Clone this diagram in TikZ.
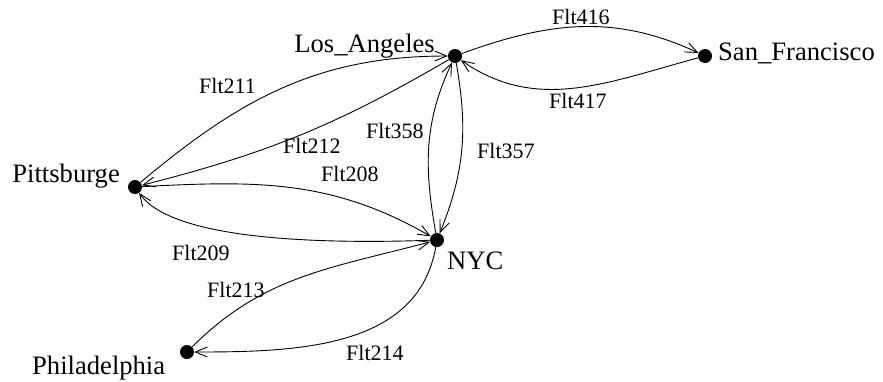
\documentclass[tikz,border=0pt]{standalone}
\usepackage{fontspec}
\setmainfont{Liberation Serif}
\usetikzlibrary{arrows.meta}
\begin{document}
\begin{tikzpicture}[x=1pt,y=1pt,
  city/.style={circle,fill=black,inner sep=0pt,minimum size=14pt},
  cityname/.style={font=\fontsize{26.6}{30}\selectfont,inner sep=0pt},
  flt/.style={font=\fontsize{22}{26}\selectfont,inner sep=0pt,anchor=base west},
  route/.style={line width=0.9pt,-{Straight Barb[length=12pt,width=10pt,line width=0.9pt]}}]
\useasboundingbox (0,0) rectangle (883,-381);
% cities
\node[city] (la) at (455,-56) {};
\node[city] (sf) at (705,-56) {};
\node[city] (pit) at (135,-187) {};
\node[city] (nyc) at (437,-240) {};
\node[city] (phl) at (187,-352) {};
% city names
\node[cityname,anchor=base east] (laname) at (435,-52) {Los\_Angeles};
\node[cityname,anchor=base west] (sfname) at (718,-60) {San\_Francisco};
\node[cityname,anchor=base east] (pitname) at (120,-182) {Pittsburge};
\node[cityname,anchor=base west] (nycname) at (447,-269) {NYC};
\node[cityname,anchor=base west] (phlname) at (32,-374) {Philadelphia};
% routes
\draw[route] (pit) to[out=40,in=180] (la);
\draw[route] (la) to[bend left=8] (pit);
\draw[route] (pit) to[out=3,in=150] (nyc);
\draw[route] (nyc) .. controls +(182:140) and +(-55:60) .. (pit);
\draw[route] (phl) to[out=45,in=195] (nyc);
\draw[route] (nyc) to[out=-100,in=0] (phl);
\draw[route] (nyc) to[out=100,in=-115] (la);
\draw[route] (la) to[out=-80,in=68] (nyc);
\draw[route] (la) to[out=20,in=155] (sf);
\draw[route] (sf) to[out=195,in=-35] (la);
% flight labels
\node[flt] (f211) at (199,-93) {Flt211};
\node[flt] (f212) at (283,-153) {Flt212};
\node[flt] (f358) at (366,-138) {Flt358};
\node[flt] (f208) at (321,-181) {Flt208};
\node[flt] (f416) at (552,-24) {Flt416};
\node[flt] (f417) at (549,-108) {Flt417};
\node[flt] (f357) at (477,-158) {Flt357};
\node[flt] (f209) at (172,-260) {Flt209};
\node[flt] (f213) at (207,-297) {Flt213};
\node[flt] (f214) at (346,-360) {Flt214};
\end{tikzpicture}
\end{document}
